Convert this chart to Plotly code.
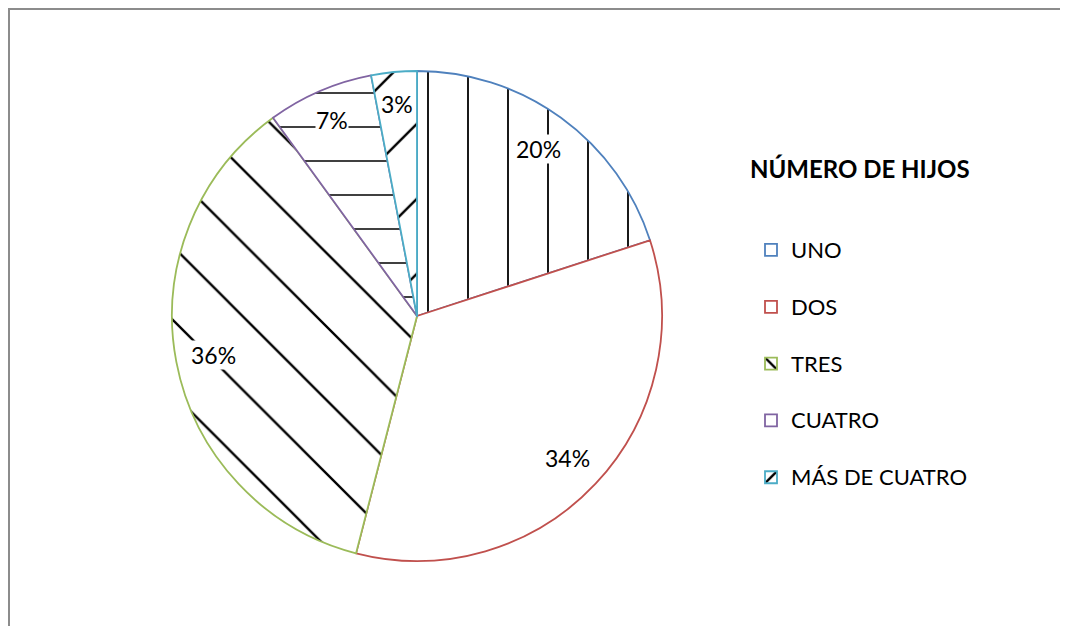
import math
import plotly.graph_objects as go

# Datos
categorias = ["UNO", "DOS", "TRES", "CUATRO", "MÁS DE CUATRO"]
porcentajes = [20, 34, 36, 7, 3]
bordes = ["#4F81BD", "#C0504D", "#9BBB59", "#8064A2", "#4BACC6"]
tramas = ["|", "", "\\", "-", "/"]
tam_trama = [40, 10, 52, 34, 53]

# la página html deja 8px de margen, por eso todo va corrido
W, H = 1060, 618
cx_px, cy_px, R = 409, 308, 245

fig = go.Figure(go.Pie(
    labels=[f'<span style="font-size:22px">{c}</span><br> ' for c in categorias],
    values=porcentajes,
    sort=False,
    direction="clockwise",
    rotation=0,
    textinfo="none",
    hoverinfo="percent",
    marker=dict(
        colors=["white"] * 5,
        line=dict(color=bordes, width=1.8),
        pattern=dict(shape=tramas, fgcolor="black", bgcolor="white",
                     size=tam_trama, solidity=0.045, fillmode="replace"),
    ),
    domain=dict(x=[(cx_px - R) / W, (cx_px + R) / W],
                y=[1 - (cy_px + R) / H, 1 - (cy_px - R) / H]),
))

# etiquetas de porcentaje
anots = []
acum = 0
for v in porcentajes:
    ang = math.radians((acum + v / 2) / 100 * 360)
    acum += v
    r = (0.845 if v > 10 else 0.87) * R
    anots.append(dict(x=(cx_px + r * math.sin(ang)) / W,
                      y=1 - (cy_px - r * math.cos(ang)) / H,
                      xref="paper", yref="paper", showarrow=False,
                      xanchor="center", yanchor="middle",
                      bgcolor="white", borderpad=0,
                      text=f"{v}%", font=dict(size=23, color="black")))
anots.append(dict(x=852 / W, y=1 - 160 / H, xref="paper", yref="paper",
                  showarrow=False, xanchor="center", yanchor="middle",
                  text="<b>NÚMERO DE HIJOS</b>",
                  font=dict(size=24, color="black")))

fig.update_layout(
    width=W, height=H,
    margin=dict(l=0, r=0, t=0, b=0),
    paper_bgcolor="white",
    font=dict(family="Lato, Open Sans, sans-serif", color="black"),
    annotations=anots,
    legend=dict(x=743 / W, y=1 - 222 / H, xanchor="left", yanchor="top",
                valign="top", font=dict(size=20.7, color="black"),
                bgcolor="rgba(0,0,0,0)"),
    shapes=[dict(type="path", xref="paper", yref="paper",
                 path=f"M {1 / W},0 L {1 / W},{1 - 1 / H} L 1,{1 - 1 / H}",
                 line=dict(color="#8C8C8C", width=2))],
)

fig.write_html("out.html")
